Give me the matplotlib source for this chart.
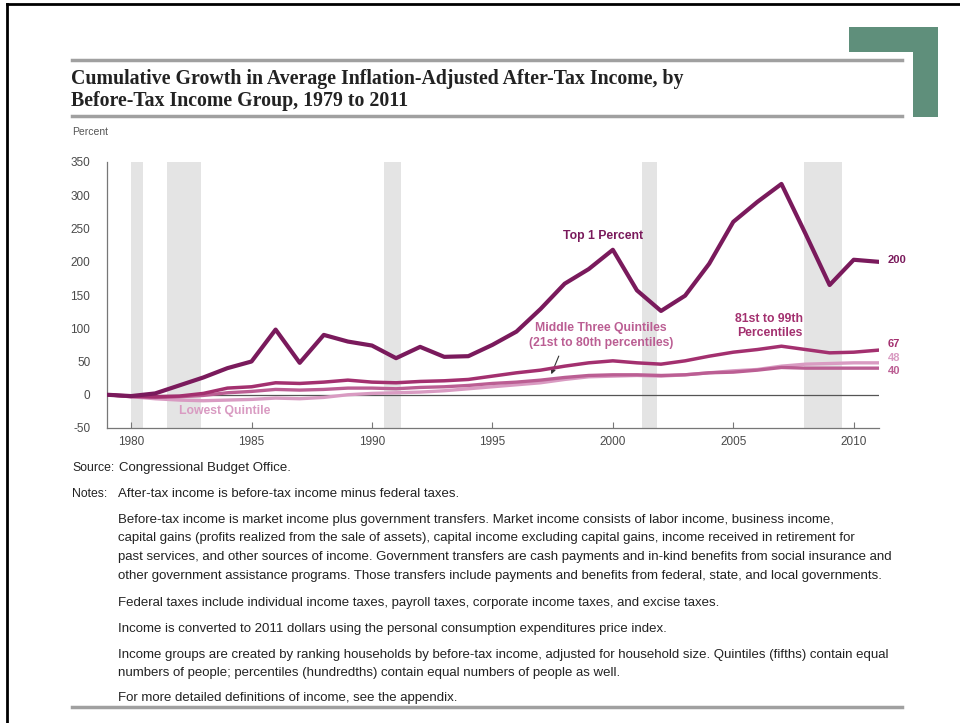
import matplotlib
matplotlib.use("Agg")
import matplotlib.pyplot as plt
from matplotlib.lines import Line2D
from matplotlib.patches import Rectangle

W, H = 960, 723

years = list(range(1979, 2012))
top1 = [0, -2, 2, 14, 26, 40, 50, 98, 48, 90, 80, 74, 55, 72, 57, 58, 75,
        95, 129, 167, 189, 218, 157, 126, 149, 197, 260, 290, 317, 242, 165, 203, 200]
p81_99 = [0, -2, -3, -2, 2, 10, 12, 18, 17, 19, 22, 19, 18, 20, 21, 23, 28,
          33, 37, 43, 48, 51, 48, 46, 51, 58, 64, 68, 73, 68, 63, 64, 67]
middle3 = [0, -3, -4, -3, -1, 3, 5, 8, 7, 8, 10, 10, 9, 11, 12, 14, 17,
           19, 22, 26, 29, 30, 30, 29, 30, 33, 34, 37, 41, 40, 40, 40, 40]
lowest = [0, -3, -6, -8, -9, -8, -7, -5, -6, -4, 0, 2, 3, 4, 6, 9, 12,
          15, 18, 23, 27, 28, 29, 28, 30, 33, 36, 38, 43, 46, 47, 48, 48]
recessions = [(1980.0, 1980.5), (1981.5, 1982.9), (1990.5, 1991.2),
              (2001.2, 2001.85), (2007.95, 2009.5)]
yticks = [-50, 0, 50, 100, 150, 200, 250, 300, 350]
xticks = [1980, 1985, 1990, 1995, 2000, 2005, 2010]

C_TOP = "#7a1a5c"
C_81 = "#a3306f"
C_MID = "#bb5e93"
C_LOW = "#d99bc2"
GREY_TXT = "#4a4a4a"
NARROW = ["Liberation Sans Narrow", "Liberation Sans", "DejaVu Sans"]
plt.rcParams["axes.unicode_minus"] = False


def fx(x):
    return x / W


def fy(y):
    return 1 - y / H


fig = plt.figure(figsize=(W / 100, H / 100), dpi=100)

# frame of the screenshot + title rules + green corner
fig.add_artist(Line2D([fx(7), fx(7)], [fy(4), fy(723)], color="black", lw=2))
fig.add_artist(Line2D([fx(7), fx(960)], [fy(4), fy(4)], color="black", lw=2))
for yy in (60, 116, 707):
    fig.add_artist(Line2D([fx(72), fx(902)], [fy(yy), fy(yy)], color="#a0a0a0", lw=2.5))
green = "#5f8f7b"
fig.add_artist(Rectangle((fx(849), fy(52)), fx(89), 25 / H, color=green, lw=0))
fig.add_artist(Rectangle((fx(913), fy(117)), fx(25), 90 / H, color=green, lw=0))

title_kw = dict(family="Liberation Serif", weight="bold", fontsize=14.3, va="center",
                color="#222222")
fig.text(fx(71), fy(79), "Cumulative Growth in Average Inflation-Adjusted After-Tax Income, by",
         **title_kw)
fig.text(fx(71), fy(101), "Before-Tax Income Group, 1979 to 2011", **title_kw)
fig.text(fx(72), fy(132), "Percent", family=NARROW, fontsize=7.5, va="center", color="#555555")

ax = fig.add_axes([fx(107), fy(428), fx(879 - 107), (428 - 162) / H])
for a, b in recessions:
    ax.axvspan(a, b, color="#e4e4e4", lw=0, zorder=0)
ax.axhline(0, color="#555555", lw=0.9, zorder=1)
ax.plot(years, lowest, color=C_LOW, lw=2.4, zorder=2, solid_joinstyle="round")
ax.plot(years, middle3, color=C_MID, lw=2.4, zorder=3, solid_joinstyle="round")
ax.plot(years, p81_99, color=C_81, lw=2.5, zorder=4, solid_joinstyle="round")
ax.plot(years, top1, color=C_TOP, lw=3, zorder=5, solid_joinstyle="round")

ax.set_xlim(1979, 2011.05)
ax.set_ylim(-50, 350)
ax.set_yticks(yticks)
ax.set_xticks(xticks)
for s in ("top", "right"):
    ax.spines[s].set_visible(False)
for s in ("left", "bottom"):
    ax.spines[s].set_color("#777777")
    ax.spines[s].set_linewidth(0.9)
ax.tick_params(axis="y", length=0, pad=12, labelsize=8.5, labelcolor=GREY_TXT)
ax.tick_params(axis="x", direction="in", length=4, color="#777777", pad=6,
               labelsize=8.5, labelcolor=GREY_TXT)
for lab in ax.get_xticklabels() + ax.get_yticklabels():
    lab.set_family(NARROW)

lab_kw = dict(family=NARROW, fontsize=8.8, weight="bold", ha="center", va="center")
ax.text(1999.6, 238, "Top 1 Percent", color=C_TOP, **lab_kw)
ax.text(2006.5, 103, "81st to 99th\nPercentiles", color=C_81, linespacing=1.25, **lab_kw)
ax.text(1999.5, 89, "Middle Three Quintiles\n(21st to 80th percentiles)", color=C_MID,
        linespacing=1.25, **lab_kw)
ax.text(1983.9, -24, "Lowest Quintile", color=C_LOW, **lab_kw)
ax.annotate("", xy=(1997.4, 27), xytext=(1997.8, 62),
            arrowprops=dict(arrowstyle="-|>", color="#333333", lw=0.8, mutation_scale=7))

end_kw = dict(family=NARROW, fontsize=8, weight="bold", ha="left", va="center",
              clip_on=False)
ax.text(2011.4, 202, "200", color=C_TOP, **end_kw)
ax.text(2011.4, 77, "67", color=C_81, **end_kw)
ax.text(2011.4, 55, "48", color=C_LOW, **end_kw)
ax.text(2011.4, 36, "40", color=C_MID, **end_kw)

foot_kw = dict(family=NARROW, fontsize=9.5, va="center", color="#222222")
head_kw = dict(foot_kw, fontsize=8.8)
fig.text(fx(72), fy(468), "Source:", **head_kw)
fig.text(fx(119), fy(468), "Congressional Budget Office.", **foot_kw)
fig.text(fx(72), fy(494), "Notes:", **head_kw)
fig.text(fx(118), fy(494), "After-tax income is before-tax income minus federal taxes.", **foot_kw)

notes = [
    (520, "Before-tax income is market income plus government transfers. Market income consists of labor income, business income,"),
    (538, "capital gains (profits realized from the sale of assets), capital income excluding capital gains, income received in retirement for"),
    (557, "past services, and other sources of income. Government transfers are cash payments and in-kind benefits from social insurance and"),
    (576, "other government assistance programs. Those transfers include payments and benefits from federal, state, and local governments."),
    (603, "Federal taxes include individual income taxes, payroll taxes, corporate income taxes, and excise taxes."),
    (629, "Income is converted to 2011 dollars using the personal consumption expenditures price index."),
    (655, "Income groups are created by ranking households by before-tax income, adjusted for household size. Quintiles (fifths) contain equal"),
    (673, "numbers of people; percentiles (hundredths) contain equal numbers of people as well."),
    (698, "For more detailed definitions of income, see the appendix."),
]
for yy, line in notes:
    fig.text(fx(118), fy(yy), line, **foot_kw)

fig.savefig("out.png", dpi=100)
